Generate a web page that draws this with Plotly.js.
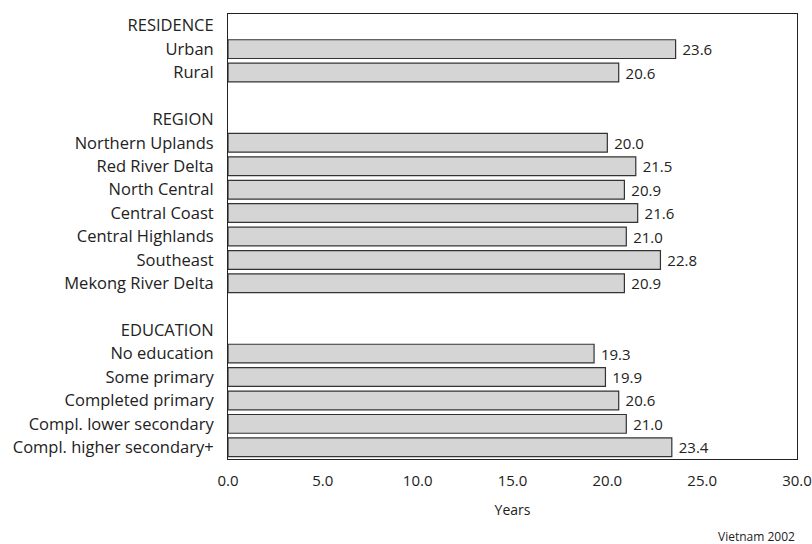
<!DOCTYPE html>
<html>
<head>
<meta charset="utf-8">
<script src="https://cdn.plot.ly/plotly-3.0.1.min.js"></script>
<style>html,body{margin:0;padding:0;background:#fff;}#chart{width:812px;height:544px;}</style>
</head>
<body>
<div id="chart"></div>
<script>
// Rows from top to bottom; group headers and spacers have no value
const categories = [
  "RESIDENCE", "Urban", "Rural", " ",
  "REGION", "Northern Uplands", "Red River Delta", "North Central", "Central Coast",
  "Central Highlands", "Southeast", "Mekong River Delta", "  ",
  "EDUCATION", "No education", "Some primary", "Completed primary",
  "Compl. lower secondary", "Compl. higher secondary+"
];
const values = [
  null, 23.6, 20.6, null,
  null, 20.0, 21.5, 20.9, 21.6, 21.0, 22.8, 20.9, null,
  null, 19.3, 19.9, 20.6, 21.0, 23.4
];
const xTicks = [0, 5, 10, 15, 20, 25, 30];
const xTickLabels = ["0.0", "5.0", "10.0", "15.0", "20.0", "25.0", "30.0"];

const font = "'Open Sans', 'DejaVu Sans', sans-serif";

const trace = {
  type: "bar",
  orientation: "h",
  y: categories,
  x: values,
  width: 0.8,
  marker: {
    color: "#dcdcdc",
    pattern: {shape: ".", fgcolor: "#c6c6c6", bgcolor: "#e2e2e2", size: 2, solidity: 0.5},
    line: {color: "#333333", width: 1.2}
  },
  text: values.map(v => v === null ? "" : "\u00a0" + v.toFixed(1)),
  textposition: "outside",
  constraintext: "none",
  cliponaxis: false,
  textfont: {family: font, size: 15, color: "#222"},
  hoverinfo: "skip"
};

const layout = {
  width: 812, height: 544,
  margin: {l: 228, r: 15, t: 14, b: 85},
  paper_bgcolor: "#fff", plot_bgcolor: "#fff",
  showlegend: false,
  font: {family: font, size: 15, color: "#222"},
  xaxis: {
    range: [0, 30],
    tickvals: xTicks, ticktext: xTickLabels,
    showgrid: false, zeroline: false,
    showline: true, mirror: true, linecolor: "#222", linewidth: 1,
    ticks: "outside", ticklen: 8, tickcolor: "rgba(0,0,0,0)",
    tickfont: {family: font, size: 15, color: "#222"},
    title: {text: "Years", font: {family: font, size: 14, color: "#222"}, standoff: 16}
  },
  yaxis: {
    type: "category",
    categoryorder: "array", categoryarray: categories,
    autorange: "reversed",
    showgrid: false, zeroline: false,
    showline: true, mirror: true, linecolor: "#222", linewidth: 1,
    ticks: "outside", ticklen: 10, tickcolor: "rgba(0,0,0,0)",
    tickfont: {family: font, size: 16.5, color: "#222"}
  },
  annotations: [{
    text: "Vietnam 2002", xref: "paper", yref: "paper",
    x: 1, y: 0, yshift: -67, xanchor: "right", yanchor: "top",
    showarrow: false, font: {family: font, size: 12, color: "#222"}
  }]
};

Plotly.newPlot("chart", [trace], layout, {displayModeBar: false, staticPlot: true});
</script>
</body>
</html>
